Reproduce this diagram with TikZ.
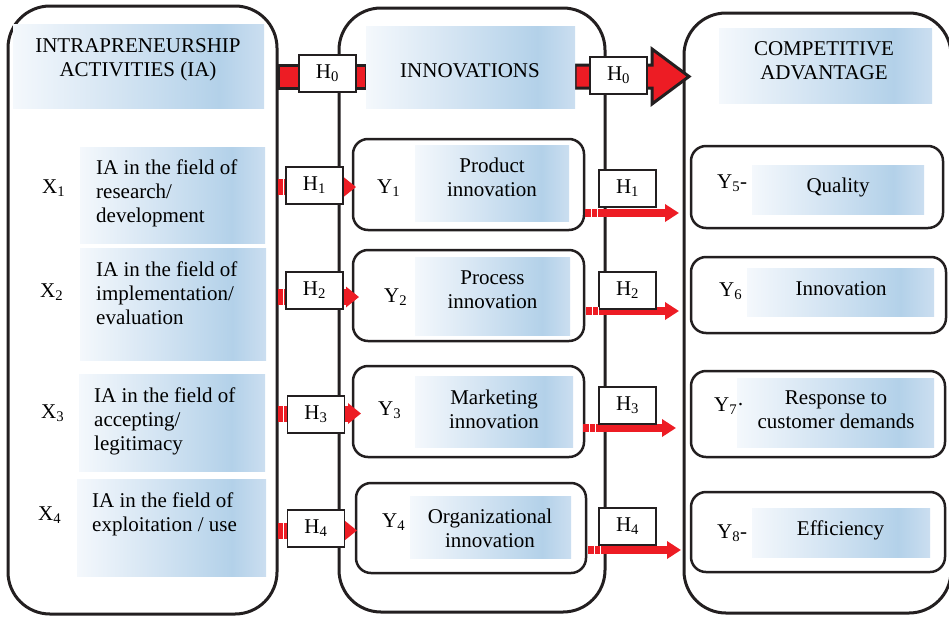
\documentclass[tikz,border=0pt]{standalone}
\usepackage{fontspec}
\setmainfont{Liberation Serif}
\usetikzlibrary{arrows.meta}
\definecolor{ink}{HTML}{231F20}
\definecolor{arrred}{HTML}{ED1C24}
\definecolor{shA}{HTML}{F4F8FC}
\definecolor{shB}{HTML}{D5E5F3}
\definecolor{shC}{HTML}{B3D1E9}
\definecolor{shD}{HTML}{CBDEF0}
\pgfdeclarehorizontalshading{bluegrad}{100bp}{color(0bp)=(shA); color(25bp)=(shA); color(45bp)=(shB); color(66bp)=(shC); color(75bp)=(shD); color(100bp)=(shD)}
\begin{document}
\begin{tikzpicture}[x=1pt,y=-1pt,
  bigbox/.style={draw=ink,line width=3pt,rounded corners=42pt,anchor=north west,inner sep=0pt,outer sep=0pt},
  subbox/.style={draw=ink,line width=2.5pt,rounded corners=15pt,fill=white,anchor=north west,inner sep=0pt,outer sep=0pt},
  shbox/.style={shading=bluegrad,draw=none,anchor=north west,inner sep=0pt,outer sep=0pt},
  hbox/.style={draw=ink,line width=1.2pt,fill=white,minimum width=57pt,minimum height=37pt,inner sep=0pt,font=\fontsize{21}{24}\selectfont},
  txt/.style={font=\fontsize{21}{24}\selectfont,align=center,inner sep=0pt},
  ltxt/.style={font=\fontsize{21}{24}\selectfont,align=left,inner sep=0pt,anchor=north west},
  lab/.style={font=\fontsize{21}{24}\selectfont,inner sep=0pt,anchor=base west},
  larr/.style={arrred,line width=16pt,-{Triangle[length=13pt,width=20pt]}},
  rarr/.style={arrred,line width=8pt,-{Triangle[length=14pt,width=17pt]}},
  stripe/.style={white,line width=1pt}
]
\useasboundingbox (0,0) rectangle (949,616);
\clip (0,0) rectangle (949,616);

% big columns
\node[bigbox,minimum width=269pt,minimum height=608pt] (colL) at (8,6) {};
\node[bigbox,minimum width=266pt,minimum height=604pt] (colM) at (339,8) {};
\node[bigbox,minimum width=267pt,minimum height=600pt] (colR) at (684,13) {};

% H0 bars
\coordinate (b0s) at (278,76.5);
\coordinate (b0e) at (366,76.5);
\draw[draw=ink,fill=arrred,line width=3pt] (278,65) rectangle (366,88);
\draw[draw=ink,fill=arrred,line width=3pt,line join=miter]
  (575,65) -- (652,65) -- (652,49) -- (689,76.5) -- (652,104) -- (652,88) -- (575,88) -- cycle;

% headers
\node[shbox,minimum width=251pt,minimum height=84pt] (hdrL) at (13,24) {};
\node[shbox,minimum width=209pt,minimum height=82pt] (hdrM) at (366,26) {};
\node[shbox,minimum width=213pt,minimum height=75pt] (hdrR) at (719,28) {};
\node[txt] (hdrLt) at (138,60) {INTRAPRENEURSHIP\\ACTIVITIES (IA)};
\node[txt] (hdrMt) at (470,70.5) {INNOVATIONS};
\node[txt] (hdrRt) at (824,61) {COMPETITIVE\\ADVANTAGE};

\node[hbox] (h0a) at (327.5,73.5) {H\textsubscript{0}};
\node[hbox] (h0b) at (618.5,75.5) {H\textsubscript{0}};

% left column items
\node[shbox,minimum width=185pt,minimum height=96pt] (x1b) at (80,147) {};
\node[shbox,minimum width=186pt,minimum height=112pt] (x2b) at (80,248) {};
\node[shbox,minimum width=186pt,minimum height=97pt] (x3b) at (79,374) {};
\node[shbox,minimum width=189pt,minimum height=97pt] (x4b) at (77,479) {};
\node[ltxt] (x1t) at (96,160) {IA in the field of\\research/\\development};
\node[ltxt] (x2t) at (96,262) {IA in the field of\\implementation/\\evaluation};
\node[ltxt] (x3t) at (94,388) {IA in the field of\\accepting/\\legitimacy};
\node[ltxt] (x4t) at (92,493) {IA in the field of\\exploitation / use};
\node[lab] (x1) at (42,193) {X\textsubscript{1}};
\node[lab] (x2) at (40,297) {X\textsubscript{2}};
\node[lab] (x3) at (41,418) {X\textsubscript{3}};
\node[lab] (x4) at (38,520) {X\textsubscript{4}};

% middle column items
\node[subbox,minimum width=231pt,minimum height=91pt] (y1) at (353,139) {};
\node[subbox,minimum width=231pt,minimum height=91pt] (y2) at (353,250) {};
\node[subbox,minimum width=231pt,minimum height=91pt] (y3) at (353,366) {};
\node[subbox,minimum width=230pt,minimum height=90pt] (y4) at (356,483) {};
\node[shbox,minimum width=154pt,minimum height=76pt] (y1b) at (415,145) {};
\node[shbox,minimum width=155pt,minimum height=78pt] (y2b) at (415,257) {};
\node[shbox,minimum width=158pt,minimum height=71pt] (y3b) at (415,376) {};
\node[shbox,minimum width=161pt,minimum height=62pt] (y4b) at (410,496) {};
\node[txt] (y1t) at (492,177.5) {Product\\innovation};
\node[txt] (y2t) at (492.5,290) {Process\\innovation};
\node[txt] (y3t) at (494,409) {Marketing\\innovation};
\node[txt] (y4t) at (490,528) {Organizational\\innovation};
\node[lab] (y1l) at (377,193) {Y\textsubscript{1}};
\node[lab] (y2l) at (384,302) {Y\textsubscript{2}};
\node[lab] (y3l) at (378,415) {Y\textsubscript{3}};
\node[lab] (y4l) at (382,527) {Y\textsubscript{4}};

% right column items
\node[subbox,minimum width=252pt,minimum height=82pt] (y5) at (691,146) {};
\node[subbox,minimum width=255pt,minimum height=76pt] (y6) at (691,257) {};
\node[subbox,minimum width=254pt,minimum height=86pt] (y7) at (691,371) {};
\node[subbox,minimum width=254pt,minimum height=80pt] (y8) at (691,492) {};
\node[shbox,minimum width=172pt,minimum height=49pt] (y5b) at (752,165) {};
\node[shbox,minimum width=187pt,minimum height=48pt] (y6b) at (747,268) {};
\node[shbox,minimum width=197pt,minimum height=69pt] (y7b) at (737,378) {};
\node[shbox,minimum width=178pt,minimum height=49pt] (y8b) at (752,508) {};
\node[txt] (y5t) at (838,187) {Quality};
\node[txt] (y6t) at (841,289) {Innovation};
\node[txt] (y7t) at (836,410) {Response to\\customer demands};
\node[txt] (y8t) at (840.5,530) {Efficiency};
\node[lab] (y5l) at (717,188) {Y\textsubscript{5}-};
\node[lab] (y6l) at (719,296) {Y\textsubscript{6}};
\node[lab] (y7l) at (714,411) {Y\textsubscript{7}·};
\node[lab] (y8l) at (717,538) {Y\textsubscript{8}-};

% left arrows X -> Y
\coordinate (l1s) at (277.5,187);   \coordinate (l1e) at (356,187);
\coordinate (l2s) at (277.5,297);   \coordinate (l2e) at (359,297);
\coordinate (l3s) at (277.5,413.5); \coordinate (l3e) at (361,413.5);
\coordinate (l4s) at (277.5,530.5); \coordinate (l4e) at (357,530.5);
\foreach \i in {1,2,3,4} {
  \draw[larr] (l\i s) -- (l\i e);
}
\foreach \yy in {187,297,413.5,530.5} {
  \draw[stripe] (283,\yy-8) -- (283,\yy+8);
}
\node[hbox] (h1a) at (314.5,185.5) {H\textsubscript{1}};
\node[hbox] (h2a) at (314.5,290.5) {H\textsubscript{2}};
\node[hbox] (h3a) at (316,414.5) {H\textsubscript{3}};
\node[hbox] (h4a) at (316,528.5) {H\textsubscript{4}};

% right arrows Y -> competitive advantage
\coordinate (r1s) at (585,213); \coordinate (r1e) at (679,213);
\coordinate (r2s) at (586,311); \coordinate (r2e) at (679,311);
\coordinate (r3s) at (583,428); \coordinate (r3e) at (676,428);
\coordinate (r4s) at (588,550); \coordinate (r4e) at (681,550);
\foreach \i in {1,2,3,4} {
  \draw[rarr] (r\i s) -- (r\i e);
}
\node[hbox] (h1b) at (627.5,188.5) {H\textsubscript{1}};
\node[hbox] (h2b) at (627.5,290.5) {H\textsubscript{2}};
\node[hbox] (h3b) at (627.5,405.5) {H\textsubscript{3}};
\node[hbox] (h4b) at (627.5,526.5) {H\textsubscript{4}};
\foreach \xs/\yy in {585/213,586/311,583/428,588/550} {
  \draw[stripe] (\xs+6,\yy-4) -- (\xs+6,\yy+4);
  \draw[stripe] (\xs+12,\yy-4) -- (\xs+12,\yy+4);
}
\end{tikzpicture}
\end{document}
